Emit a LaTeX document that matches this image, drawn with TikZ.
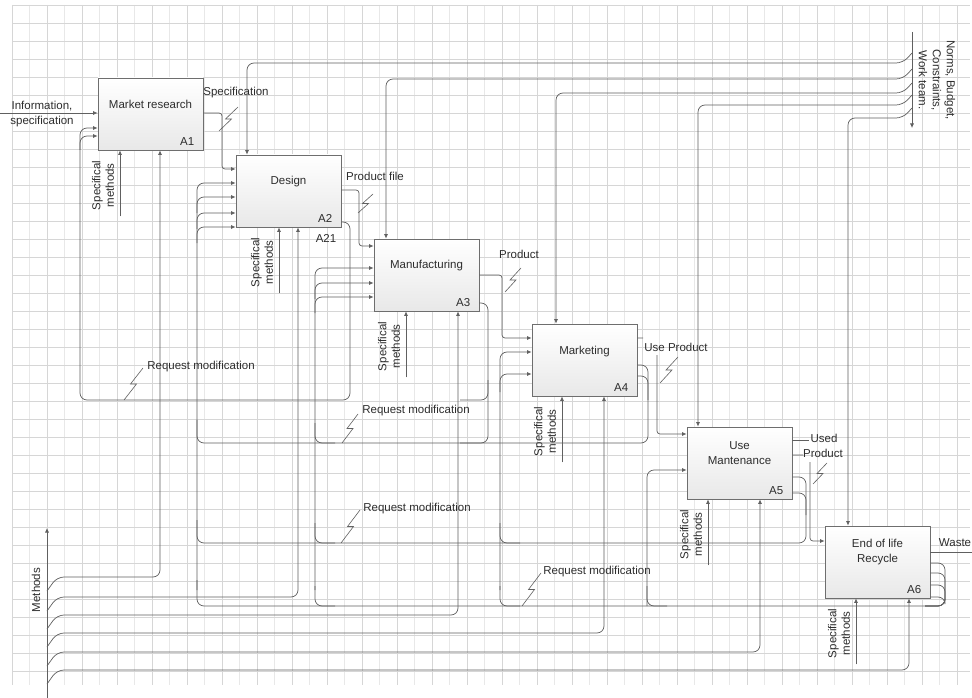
\documentclass[tikz,border=0pt]{standalone}
\usepackage{fontspec}
\setmainfont{Liberation Sans}
\usepackage{xcolor}
\definecolor{idline}{RGB}{96,96,96}
\definecolor{idgrid}{RGB}{214,214,214}
\definecolor{idgridm}{RGB}{232,232,232}
\definecolor{idtext}{RGB}{45,45,45}
\definecolor{idbox}{RGB}{110,110,110}
\usetikzlibrary{arrows.meta, calc}

\begin{document}
\begin{tikzpicture}[x=1pt, y=-1pt,
  func/.style={rectangle, draw=idbox, line width=0.8pt, top color=white, bottom color=black!9,
               minimum width=105pt, minimum height=72pt, inner sep=0pt},
  fname/.style={font=\fontsize{11.5}{15}\selectfont, text=idtext, align=center},
  fnum/.style={font=\fontsize{11.5}{14}\selectfont, text=idtext, anchor=south east, inner sep=0pt},
  lbl/.style={font=\fontsize{11.5}{14}\selectfont, text=idtext, align=center, inner sep=1pt},
  vlbl/.style={lbl, font=\fontsize{11.5}{13.5}\selectfont, rotate=90},
  wire/.style={draw=idline, line width=0.7pt, rounded corners=7pt},
  flow/.style={wire, -{Latex[length=4.5pt,width=4pt]}},
  zap/.style={draw=idline, line width=0.6pt},
  squig/.style={to path={-- ($(\tikztostart)!0.5!(\tikztotarget)+(3,0)$)
                         -- ($(\tikztostart)!0.5!(\tikztotarget)+(-3,0)$) -- (\tikztotarget)}}
]
\fill[white] (0,0) rectangle (972,698);
\useasboundingbox (0,0) rectangle (972,698);
% grid paper
\foreach \gx in {29.5,64.5,...,970} \draw[idgridm, line width=0.5pt] (\gx,5) -- (\gx,685);
\foreach \gx in {12,47,...,970} \draw[idgrid, line width=0.5pt] (\gx,5) -- (\gx,685);
\foreach \gy in {5,23,...,685} \draw[idgrid, line width=0.5pt] (12,\gy) -- (970,\gy);

% A1: Market research
\node[func] (A1) at (150.5,114) {};
\node[fname] (t1) at ($(A1.north)+(0,27)$) {Market research};
\node[fnum] (n1) at ($(A1.south east)+(-9,-5)$) {A1};

% A2: Design
\node[func] (A2) at (288.5,191) {};
\node[fname] (t2) at ($(A2.north)+(0,27)$) {Design};
\node[fnum] (n2) at ($(A2.south east)+(-9,-5)$) {A2};
\node[lbl] (a21) at (326,238) {A21};

% A3: Manufacturing
\node[func] (A3) at (426.5,275) {};
\node[fname] (t3) at ($(A3.north)+(0,27)$) {Manufacturing};
\node[fnum] (n3) at ($(A3.south east)+(-9,-5)$) {A3};

% A4: Marketing
\node[func] (A4) at (584.5,360) {};
\node[fname] (t4) at ($(A4.north)+(0,28)$) {Marketing};
\node[fnum] (n4) at ($(A4.south east)+(-9,-5)$) {A4};

% A5: Use / maintenance
\node[func] (A5) at (739.5,463) {};
\node[fname] (t5) at ($(A5.north)+(0,26)$) {Use\\Mantenance};
\node[fnum] (n5) at ($(A5.south east)+(-9,-5)$) {A5};

% A6: End of life
\node[func] (A6) at (877.5,562) {};
\node[fname] (t6) at ($(A6.north)+(0,26)$) {End of life\\Recycle};
\node[fnum] (n6) at ($(A6.south east)+(-9,-5)$) {A6};

% main flow
\draw[flow] (0,113) -- (A1.west |- 0,113);
\node[lbl, font=\fontsize{11.5}{15}\selectfont] (info) at (42,114) {Information,\\specification};
\draw[flow, rounded corners=3pt] (A1.east |- 0,113) -- (222,113) -- (222,169) -- (A2.west |- 0,169);
\node[lbl] (spec) at (236,93) {Specification};
\draw[zap] (219,131) to[squig] (238,107);
\draw[flow, rounded corners=3pt] (A2.east |- 0,190) -- (359,190) -- (359,246) -- (A3.west |- 0,246);
\node[lbl] (pfile) at (375,176) {Product file};
\draw[zap] (358,213) to[squig] (373,194);
\draw[flow, rounded corners=3pt] (A3.east |- 0,275) -- (502,275) -- (502,338) -- (A4.west |- 0,338);
\node[lbl] (prod) at (519,254) {Product};
\draw[zap] (505,292) to[squig] (521,268);
\draw[flow, rounded corners=3pt] (A4.east |- 0,338) -- (643,338) (657,355) -- (657,434) -- (A5.west |- 0,434);
\node[lbl] (useprod) at (676,347) {Use Product};
\draw[zap] (660,383) to[squig] (678,357);
\draw[wire] (A5.east |- 0,440) -- (809,440);
\draw[flow, rounded corners=3pt] (A5.east |- 0,455) -- (803,455) (810,462) -- (810,541) -- (A6.west |- 0,541);
\node[lbl] (used) at (824,438) {Used};
\node[lbl] (usedp) at (823,453) {Product};
\draw[zap] (813,484) to[squig] (827,463);
\draw[wire] (A6.east |- 0,552) -- (972,552);
\node[lbl] (waste) at (955,543) {Waste};

% controls
\draw[flow] (912,32) -- (912,128);
\node[lbl, rotate=-90] (norms) at (937,80) {Norms, Budget,\\Constraints,\\Work team.};
\foreach \y/\bx/\x in {63/A2/247, 79/A3/386, 93/A4/556, 105/A5/698, 118/A6/848}
  \draw[flow] (912,\y-10) -- (903,\y) -- (\x,\y) -- (\bx.north -| \x,0);

% mechanisms
\draw[flow] (47,698) -- (47,528);
\node[vlbl] (meth) at (36,590) {Methods};
\foreach \y/\bx/\x in {577/A1/160, 597/A2/298, 615/A3/458, 633/A4/604, 652/A5/760, 670/A6/909}
  \draw[flow] (47,\y+14) -- (57,\y) -- (\x,\y) -- (\bx.south -| \x,0);
\foreach \bx/\x in {A1/120, A2/279, A3/406, A4/562, A5/708, A6/856} {
  \path (\bx.south -| \x,0) coordinate (m\bx);
  \draw[flow] ($(m\bx)+(0,66)$) -- (m\bx);
  \node[vlbl] (sm\bx) at ($(m\bx)+(-17,35)$) {Specifical\\methods};
}

% feedback
\draw[flow] (A2.east |- 0,222) -- (350,222) -- (350,400) -- (80,400) -- (80,136) -- (A1.west |- 0,136);
\draw[flow] (80,150) -- (80,128) -- (A1.west |- 0,128);
\draw[wire] (A3.east |- 0,303) -- (488,303) -- (488,443) -- (460,443);
\draw[wire] (488,380) -- (488,400) -- (460,400);
\draw[wire] (A4.east |- 0,365) -- (648,365) -- (648,443) -- (197,443) -- (197,420);
\draw[wire] (A4.east |- 0,376) -- (648,376) -- (648,400);
\draw[wire] (A5.east |- 0,477) -- (806,477) -- (806,543) -- (197,543) -- (197,520);
\draw[wire] (A5.east |- 0,493) -- (806,493) -- (806,515);
\draw[wire] (A6.east |- 0,563) -- (945,563) -- (945,606) -- (197,606) -- (197,580);
\foreach \y in {573,585,597}
  \draw[wire] (A6.east |- 0,\y) -- (945,\y) -- (945,606) -- (925,606);

% inputs back into boxes
\draw[flow] (197,590) -- (197,183) -- (A2.west |- 0,183);
\foreach \y in {197,213,227} \draw[flow] (197,\y+16) -- (197,\y) -- (A2.west |- 0,\y);
\draw[flow] (315,590) -- (315,268) -- (A3.west |- 0,268);
\foreach \y in {283,297} \draw[flow] (315,\y+16) -- (315,\y) -- (A3.west |- 0,\y);
\foreach \y in {443,543,606} \draw[wire] (335,\y) -- (315,\y) -- (315,\y-20);
\draw[flow] (500,590) -- (500,352) -- (A4.west |- 0,352);
\draw[flow] (500,392) -- (500,374) -- (A4.west |- 0,374);
\foreach \y in {543,606} \draw[wire] (520,\y) -- (500,\y) -- (500,\y-20);
\draw[flow] (647,606) -- (647,470) -- (A5.west |- 0,470);
\draw[wire] (667,606) -- (647,606) -- (647,586);

% request modification labels
\node[lbl] (rq1) at (201,367) {Request modification};
\draw[zap] (124,400) to[squig] (143,368);
\node[lbl] (rq2) at (416,411) {Request modification};
\draw[zap] (342,443) to[squig] (358,414);
\node[lbl] (rq3) at (417,509) {Request modification};
\draw[zap] (341,543) to[squig] (360,510);
\node[lbl] (rq4) at (597,572) {Request modification};
\draw[zap] (522,606) to[squig] (541,573);
\end{tikzpicture}
\end{document}
